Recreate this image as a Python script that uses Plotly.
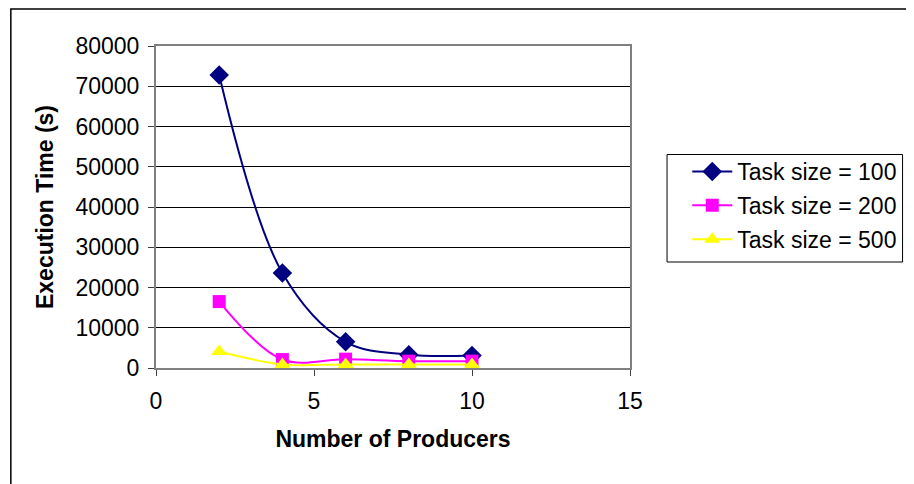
import plotly.graph_objects as go

producers = [2, 4, 6, 8, 10]
task100 = [72800, 23600, 6500, 3300, 3100]
task200 = [16500, 2100, 2200, 1700, 1700]
task500 = [4100, 900, 900, 900, 900]

x_ticks = [0, 5, 10, 15]
y_ticks = [0, 10000, 20000, 30000, 40000, 50000, 60000, 70000, 80000]
y_tick_text = [str(v) for v in y_ticks]

series = [
    ("Task size = 100", task100, "#000080", "diamond", 15),
    ("Task size = 200", task200, "#FF00FF", "square", 13),
    ("Task size = 500", task500, "#FFFF00", "triangle-up", 14),
]

fig = go.Figure()
for name, vals, color, sym, sz in series:
    fig.add_trace(go.Scatter(
        x=producers, y=vals, name=name, mode="lines+markers", legendgroup=name,
        line=dict(color=color, width=2, shape="spline", smoothing=1),
        marker=dict(symbol=sym, size=sz, color=color),
    ))

FAM = "Liberation Sans, Arial, sans-serif"
font = dict(family=FAM, size=23, color="black")

# page has an 8px body margin: figure origin is at page (8, 8)
W, H = 906, 476
L, T = 148, 38
R = W - 628
B = H - 360
pw, ph = W - L - R, H - T - B

def px_x(p):  # page x -> paper
    return (p - 8 - L) / pw

def px_y(p):  # page y -> paper
    return 1 - (p - 8 - T) / ph

fig.update_layout(
    width=W, height=H,
    margin=dict(l=L, r=R, t=T, b=B),
    paper_bgcolor="white", plot_bgcolor="white",
    font=font,
    showlegend=True,
    legend=dict(
        x=px_x(694), y=px_y(150), xanchor="left", yanchor="top",
        borderwidth=0, bgcolor="rgba(0,0,0,0)",
        font=dict(family=FAM, size=23, color="black"),
        tracegroupgap=1, itemwidth=40,
    ),
    xaxis=dict(
        range=[0, 15], tickvals=x_ticks, showgrid=False, zeroline=False,
        showline=True, linecolor="#808080", linewidth=2, mirror=True,
        ticks="outside", ticklen=6, tickcolor="#404040", ticklabelstandoff=5,
        title=dict(text="<b>Number of Producers</b>", standoff=18, font=dict(family=FAM, size=23)),
    ),
    yaxis=dict(
        range=[0, 80000], tickvals=y_ticks, ticktext=y_tick_text,
        showgrid=True, gridcolor="black", gridwidth=1,
        zeroline=False, showline=True, linecolor="#808080", linewidth=2, mirror=True,
        ticks="outside", ticklen=6, tickcolor="#404040", ticklabelstandoff=4,
        title=dict(text="<b>Execution Time (s)</b>", standoff=15, font=dict(family=FAM, size=23)),
    ),
    shapes=[
        dict(type="rect", xref="paper", yref="paper",
             x0=(1 - L) / pw, x1=2, y0=-2, y1=1 + (T - 1) / ph,
             line=dict(color="black", width=1.5), fillcolor="rgba(0,0,0,0)", layer="below"),
        dict(type="rect", xref="paper", yref="paper",
             x0=px_x(673.5), x1=px_x(912), y0=px_y(262), y1=px_y(154.5),
             line=dict(color="black", width=1), fillcolor="rgba(0,0,0,0)", layer="below"),
    ],
)

fig.write_html("out.html")
